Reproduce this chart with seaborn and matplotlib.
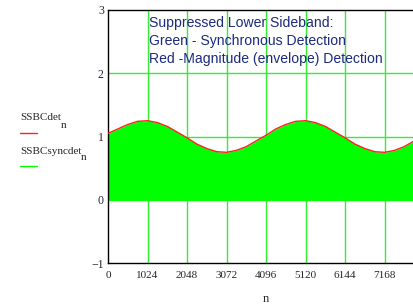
import numpy as np
import pandas as pd
import matplotlib
matplotlib.use("Agg")
import matplotlib.pyplot as plt
import seaborn as sns

n_vals = list(range(0, 8193, 256))
envelope = [1.05, 1.12, 1.19, 1.24, 1.25, 1.22, 1.16, 1.07, 0.98, 0.88, 0.81,
            0.76, 0.75, 0.78, 0.84, 0.93, 1.02, 1.12, 1.19, 1.24, 1.25, 1.22,
            1.16, 1.07, 0.98, 0.88, 0.81, 0.76, 0.75, 0.78, 0.84, 0.93, 1.02]
sync_low = [-0.01] * len(n_vals)
x_ticks = [0, 1024, 2048, 3072, 4096, 5120, 6144, 7168]
y_ticks = [-1, 0, 1, 2, 3]
note_lines = ["Suppressed Lower Sideband:",
              "Green - Synchronous Detection",
              "Red -Magnitude (envelope) Detection"]

df = pd.DataFrame({"n": n_vals, "env": envelope, "low": sync_low})

sns.set_style("white")
fig = plt.figure(figsize=(4.14, 3.04), dpi=100)
ax = fig.add_axes([108/414, 1-263/304, 316/414, 253/304])

grid_c = "#33ee33"
for xv in x_ticks[1:]:
    ax.axvline(xv, color=grid_c, lw=1, zorder=0.5)
for yv in [0, 1, 2]:
    ax.axhline(yv, color=grid_c, lw=1, zorder=0.5)

ax.fill_between(df["n"], df["low"], df["env"], color="#00ff00", lw=0, zorder=2)
sns.lineplot(data=df, x="n", y="env", color="#ff2020", lw=1, ax=ax, zorder=3)

ax.set_xlim(0, 8191)
ax.set_ylim(-1, 3)
ax.set_xticks(x_ticks)
ax.set_yticks(y_ticks)
serif = "Liberation Serif"
ax.set_xticklabels([str(v) for v in x_ticks], fontfamily=serif, fontsize=8)
ax.set_yticklabels(["\u22121", "0", "1", "2", "3"], fontfamily=serif, fontsize=8.5)
ax.tick_params(axis="y", length=0, pad=3)
ax.tick_params(axis="x", length=0, pad=6)
ax.set_xlabel("n", fontfamily=serif, fontsize=9, labelpad=9)
ax.set_ylabel("")
for s in ["left", "bottom", "top"]:
    ax.spines[s].set_color("#000000")
    ax.spines[s].set_linewidth(1)
ax.spines["right"].set_visible(False)

for i, line in enumerate(note_lines):
    ax.text(1060, 2.79 - i * 0.285, line, color="#1c2a80", fontsize=10.1,
            fontfamily="Liberation Sans", va="center", ha="left", zorder=4)

# legend on the left
fig.text(20/414, 1-118/304, "SSBCdet", fontfamily=serif, fontsize=8, va="center")
fig.text(61/414, 1-126/304, "n", fontfamily=serif, fontsize=8, va="center")
fig.add_artist(plt.Line2D([20/414, 37/414], [1-133/304, 1-133/304], color="#ff2020", lw=1))
fig.text(20/414, 1-151/304, "SSBCsyncdet", fontfamily=serif, fontsize=8, va="center")
fig.text(81/414, 1-158/304, "n", fontfamily=serif, fontsize=8, va="center")
fig.add_artist(plt.Line2D([20/414, 37/414], [1-166/304, 1-166/304], color="#00ff00", lw=1))

fig.savefig("out.png", dpi=100)
